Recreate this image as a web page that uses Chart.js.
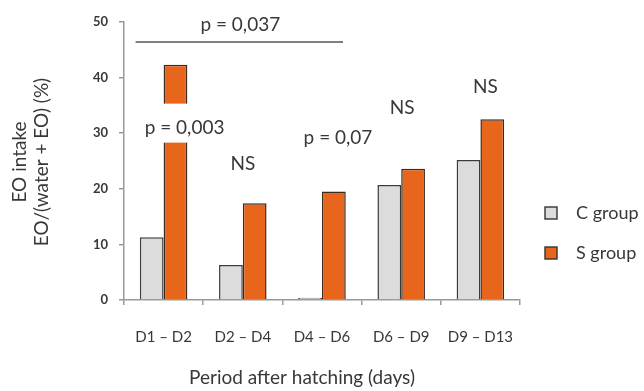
<!DOCTYPE html>
<html>
<head>
<meta charset="utf-8">
<script src="https://cdn.jsdelivr.net/npm/chart.js@4"></script>
<style>
  html, body { margin: 0; padding: 0; background: #fff; }
  #wrap { width: 644px; height: 391px; position: relative; }
</style>
</head>
<body>
<div id="wrap"><canvas id="eoChart"></canvas></div>
<script>
// EO intake per period, C vs S group
const periods = ['D1 – D2', 'D2 – D4', 'D4 – D6', 'D6 – D9', 'D9 – D13'];
const cGroup = [11.3, 6.3, 0.4, 20.7, 25.2];
const sGroup = [42.3, 17.4, 19.5, 23.6, 32.5];
const yTicks = [0, 10, 20, 30, 40, 50];
const yTitle = ['EO intake', 'EO/(water + EO) (%)'];
const xTitle = 'Period after hatching (days)';

// significance labels: category index, value height, x shift (px)
const sigLabels = [
  { text: 'p = 0,003', cat: 0, val: 31.0, dx: 21, mask: true },
  { text: 'NS', cat: 1, val: 24.5, dx: 0 },
  { text: 'p = 0,07', cat: 2, val: 29.2, dx: 16 },
  { text: 'NS', cat: 3, val: 34.5, dx: 1 },
  { text: 'NS', cat: 4, val: 38.3, dx: 5 }
];

const FONT = 'Lato, "Open Sans", sans-serif';
const TXT = '#383838';

const annotate = {
  id: 'annotate',
  afterDatasetsDraw(chart) {
    const ctx = chart.ctx;
    const x = chart.scales.x, y = chart.scales.y;
    ctx.save();
    ctx.font = '19px ' + FONT;
    ctx.textAlign = 'center';
    ctx.textBaseline = 'middle';

    // overall bracket D1-D2 .. D4-D6
    const bx0 = x.getPixelForValue(0) - 28;
    const bx1 = x.getPixelForValue(2) + 21;
    const by = y.getPixelForValue(46.4);
    ctx.strokeStyle = '#555';
    ctx.lineWidth = 1.5;
    ctx.beginPath();
    ctx.moveTo(bx0, by);
    ctx.lineTo(bx1, by);
    ctx.stroke();
    ctx.fillStyle = TXT;
    ctx.fillText('p = 0,037', (bx0 + bx1) / 2 + 1, y.getPixelForValue(49.5));

    sigLabels.forEach(l => {
      const px = x.getPixelForValue(l.cat) + l.dx;
      const py = y.getPixelForValue(l.val);
      if (l.mask) {
        const w = ctx.measureText(l.text).width;
        ctx.fillStyle = '#fff';
        ctx.fillRect(px - w / 2 - 3, py - 24, w + 6, 39);
      }
      ctx.fillStyle = TXT;
      ctx.fillText(l.text, px, py);
    });

    // x axis title (sits left of the plot centre in the original)
    ctx.fillText(xTitle, 302, 378);

    // y axis title, two rotated lines
    yTitle.forEach((t, i) => {
      ctx.save();
      ctx.translate(20 + i * 22, 162);
      ctx.rotate(-Math.PI / 2);
      ctx.fillText(t, 0, 0);
      ctx.restore();
    });

    // legend
    const items = chart.data.datasets;
    const lx = 545;
    [213, 253].forEach((ly, i) => {
      ctx.fillStyle = items[i].backgroundColor;
      ctx.strokeStyle = '#333';
      ctx.lineWidth = 1.4;
      ctx.fillRect(lx, ly - 6, 12, 12);
      ctx.strokeRect(lx, ly - 6, 12, 12);
      ctx.fillStyle = TXT;
      ctx.font = '18px ' + FONT;
      ctx.textAlign = 'left';
      ctx.fillText(items[i].label, lx + 31, ly);
    });
    ctx.restore();
  }
};

new Chart(document.getElementById('eoChart'), {
  type: 'bar',
  data: {
    labels: periods,
    datasets: [
      {
        label: 'C group',
        data: cGroup,
        backgroundColor: '#dcdcdc',
        borderColor: '#3a3a3a',
        borderWidth: 1.5,
        categoryPercentage: 0.6,
        barPercentage: 1.0
      },
      {
        label: 'S group',
        data: sGroup,
        backgroundColor: '#e8661c',
        borderColor: '#3a2a20',
        borderWidth: 1.5,
        categoryPercentage: 0.6,
        barPercentage: 1.0
      }
    ]
  },
  options: {
    responsive: true,
    maintainAspectRatio: false,
    animation: false,
    layout: { padding: { top: 22, right: 124, left: 0, bottom: 0 } },
    plugins: {
      legend: { display: false },
      tooltip: { enabled: false }
    },
    scales: {
      x: {
        afterFit: s => { s.height = 91; },
        border: { color: '#999', width: 1.5 },
        grid: { drawOnChartArea: false, tickLength: 5, color: '#999', lineWidth: 1.5 },
        ticks: { color: TXT, font: { family: FONT, size: 15 }, padding: 23 }
      },
      y: {
        min: 0,
        max: 50,
        afterFit: s => { s.width = 124; },
        afterBuildTicks: s => { s.ticks = yTicks.map(v => ({ value: v })); },
        border: { color: '#999', width: 1.5 },
        grid: { drawOnChartArea: false, tickLength: 5, color: '#999', lineWidth: 1.5 },
        ticks: { color: TXT, font: { family: FONT, size: 13, weight: 'bold' }, padding: 11 }
      }
    }
  },
  plugins: [annotate]
});
</script>
</body>
</html>
